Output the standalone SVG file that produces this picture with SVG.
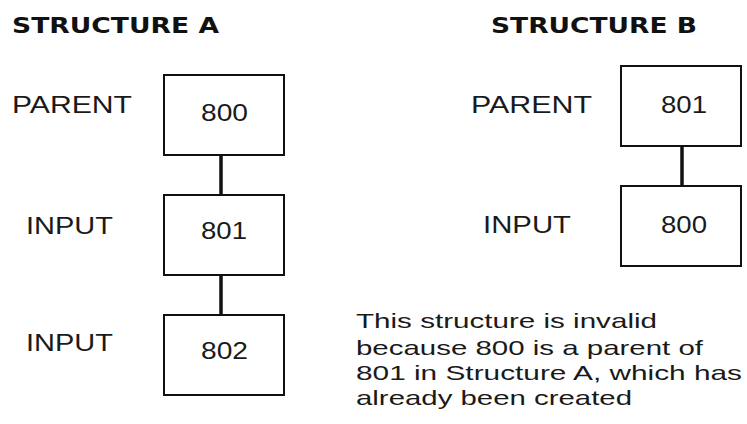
<svg xmlns="http://www.w3.org/2000/svg" width="747" height="424" viewBox="0 0 747 424">
<style>
.t{font-family:"Liberation Sans",Arial,sans-serif;fill:#1a1a1a;font-size:23px}
.h{font-family:"DejaVu Sans","Liberation Sans",sans-serif;font-weight:bold;fill:#111;font-size:21px}
.p{font-family:"Liberation Sans",Arial,sans-serif;fill:#1a1a1a;font-size:21px}
.box{fill:#fff;stroke:#111;stroke-width:2}
.c{stroke:#111;stroke-width:3.5;fill:none}
</style>
<rect width="747" height="424" fill="#fff"/>
<text class="h" x="12" y="33" textLength="207" lengthAdjust="spacingAndGlyphs">STRUCTURE A</text>
<text class="h" x="491" y="33" textLength="206" lengthAdjust="spacingAndGlyphs">STRUCTURE B</text>
<text class="t" x="12" y="113" textLength="120" lengthAdjust="spacingAndGlyphs">PARENT</text>
<text class="t" x="26" y="234" textLength="87" lengthAdjust="spacingAndGlyphs">INPUT</text>
<text class="t" x="26" y="351" textLength="87" lengthAdjust="spacingAndGlyphs">INPUT</text>
<text class="t" x="471" y="113" textLength="121" lengthAdjust="spacingAndGlyphs">PARENT</text>
<text class="t" x="483" y="233" textLength="88" lengthAdjust="spacingAndGlyphs">INPUT</text>
<g id="connectors">
<line class="c" x1="221" y1="155" x2="221" y2="194"/>
<line class="c" x1="221" y1="275" x2="221" y2="315"/>
<line class="c" x1="682" y1="146" x2="682" y2="186"/>
</g>
<g id="a800"><rect class="box" x="164" y="75" width="120" height="80"/><text class="t" x="201" y="121" textLength="47" lengthAdjust="spacingAndGlyphs">800</text></g>
<g id="a801"><rect class="box" x="164" y="195" width="120" height="80"/><text class="t" x="201" y="239" textLength="46" lengthAdjust="spacingAndGlyphs">801</text></g>
<g id="a802"><rect class="box" x="164" y="315" width="120" height="80"/><text class="t" x="201" y="359" textLength="47" lengthAdjust="spacingAndGlyphs">802</text></g>
<g id="b801"><rect class="box" x="621" y="66" width="120" height="80"/><text class="t" x="661" y="113" textLength="46" lengthAdjust="spacingAndGlyphs">801</text></g>
<g id="b800"><rect class="box" x="621" y="186" width="120" height="80"/><text class="t" x="661" y="233" textLength="46" lengthAdjust="spacingAndGlyphs">800</text></g>
<text class="p" x="356" y="328" textLength="301" lengthAdjust="spacingAndGlyphs">This structure is invalid</text>
<text class="p" x="356" y="355" textLength="347" lengthAdjust="spacingAndGlyphs">because 800 is a parent of</text>
<text class="p" x="356" y="380" textLength="386" lengthAdjust="spacingAndGlyphs">801 in Structure A, which has</text>
<text class="p" x="356" y="405" textLength="276" lengthAdjust="spacingAndGlyphs">already been created</text>
</svg>
